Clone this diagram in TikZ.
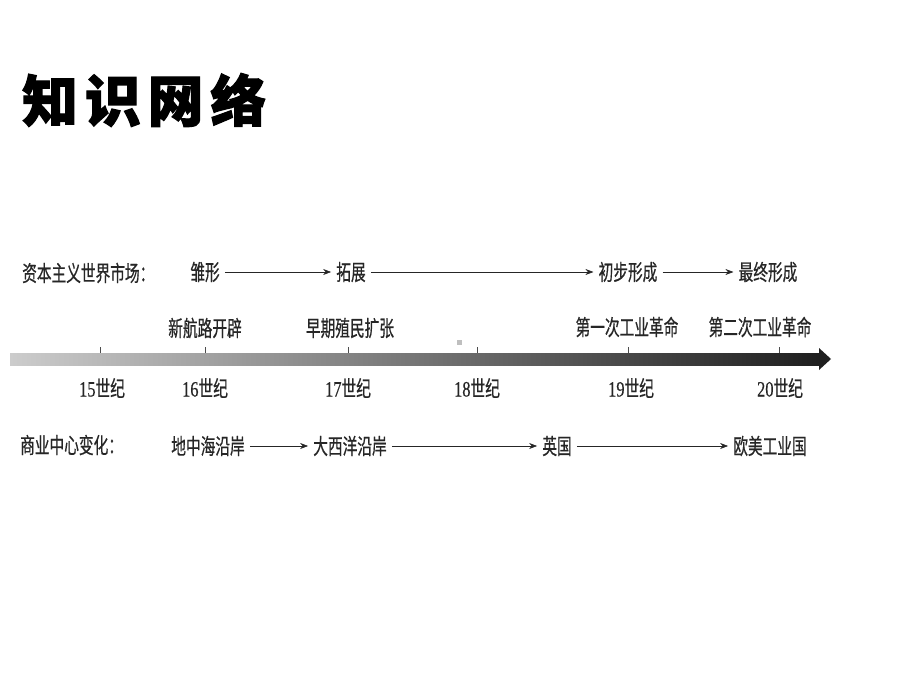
\documentclass[tikz,border=0pt]{standalone}
\usepackage{fontspec}
\usetikzlibrary{arrows.meta}
\setmainfont{Liberation Serif}
\newfontfamily\cjk{Noto Sans CJK SC}[FakeStretch=0.67,FakeBold=0.6]
\newfontfamily\cjkhead{Noto Sans CJK SC}[FakeBold=2]
\newfontfamily\lat{Liberation Serif}[FakeStretch=0.75,FakeBold=0.4]
\begin{document}
\begin{tikzpicture}[x=1bp,y=-1bp]
	\tikzstyle{lbl}=[inner sep=5bp,font=\cjk\fontsize{22}{26}\selectfont,text=black!85]
	\tikzstyle{edge}=[draw=black!85,semithick,-{Stealth[length=8bp,width=6bp]}]
	\tikzstyle{tick}=[draw=black!70,thin]
	\useasboundingbox (0,0) rectangle (920,690);

	\node [anchor=west,inner sep=0,font=\cjkhead\bfseries\fontsize{56}{60}\selectfont] (title) at (22,100) {知\hspace{7bp}识\hspace{7bp}网\hspace{7bp}络};

	% world market
	\node [lbl,anchor=west] (market) at (17,273) {资本主义世界市场：};
	\node [lbl] (chuxing) at (205,272) {雏形};
	\node [lbl] (tuozhan) at (351,272) {拓展};
	\node [lbl] (chubu) at (628,272) {初步形成};
	\node [lbl] (zuizhong) at (768,272) {最终形成};

	\path[edge] (chuxing) -- (tuozhan);
	\path[edge] (tuozhan) -- (chubu);
	\path[edge] (chubu) -- (zuizhong);

	% events
	\node [lbl] (hanglu) at (205,328) {新航路开辟};
	\node [lbl] (zhimin) at (350,328) {早期殖民扩张};
	\node [lbl] (gongye1) at (627,327) {第一次工业革命};
	\node [lbl] (gongye2) at (760,327) {第二次工业革命};

	% time axis
	\shade[left color=black!20,right color=black!88] (10,353) rectangle (820,365);
	\fill[black!88] (819,348) -- (831,359) -- (819,370) -- cycle;
	\fill[black!25] (457,340) rectangle (462,345);
	\foreach \x in {100,205,348,477,628,779}
		\draw[tick] (\x,347) -- (\x,353);

	\node [lbl] (c15) at (102,388) {{\lat 15}世纪};
	\node [lbl] (c16) at (205,388) {{\lat 16}世纪};
	\node [lbl] (c17) at (348,388) {{\lat 17}世纪};
	\node [lbl] (c18) at (477,388) {{\lat 18}世纪};
	\node [lbl] (c19) at (631,388) {{\lat 19}世纪};
	\node [lbl] (c20) at (780,388) {{\lat 20}世纪};

	% trade centre
	\node [lbl,anchor=west] (centre) at (15,445) {商业中心变化：};
	\node [lbl] (dizhong) at (208,446) {地中海沿岸};
	\node [lbl] (daxi) at (350,446) {大西洋沿岸};
	\node [lbl] (yingguo) at (557,446) {英国};
	\node [lbl] (oumei) at (770,446) {欧美工业国};

	\path[edge] (dizhong) -- (daxi);
	\path[edge] (daxi) -- (yingguo);
	\path[edge] (yingguo) -- (oumei);

\end{tikzpicture}
\end{document}
